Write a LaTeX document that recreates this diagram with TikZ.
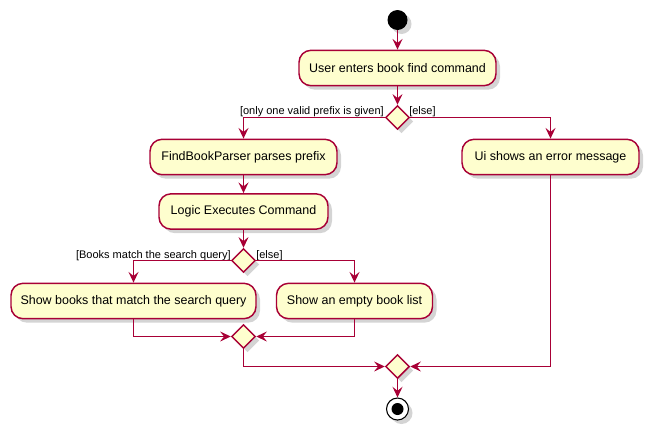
\documentclass[tikz,border=0pt]{standalone}
\usepackage{fontspec}
\setmainfont{Liberation Sans}
\usetikzlibrary{arrows.meta,shapes.geometric,shadows}
\definecolor{umlfill}{HTML}{FEFECE}
\definecolor{umlline}{HTML}{A80036}
\begin{document}
\begin{tikzpicture}[x=0.75pt,y=-0.75pt,
  shad/.style={drop shadow={shadow xshift=3pt,shadow yshift=-3pt,opacity=0.28,fill=black!60}},
  act/.style={draw=umlline,fill=umlfill,line width=1.1pt,rounded corners=9pt,
    minimum width=#1*0.75pt,minimum height=26.5pt,inner sep=0pt,
    font=\fontsize{9.35pt}{11pt}\selectfont,shad},
  dia/.style={diamond,aspect=1,draw=umlline,fill=umlfill,line width=1.1pt,
    minimum width=18pt,minimum height=18pt,inner sep=0pt,shad},
  guard/.style={font=\fontsize{8.25pt}{10pt}\selectfont,inner sep=0pt},
  flow/.style={draw=umlline,line width=1pt,-{Stealth[length=8pt,width=7.5pt,inset=3pt]}},
  line/.style={draw=umlline,line width=1pt}]
\useasboundingbox (0,0) rectangle (655,436);
\node[circle,fill=black,minimum size=15pt,inner sep=0pt,shad] (start) at (397.5,20) {};
\node[act=197] (user) at (397.5,68) {User enters book find command};
\node[dia] (d1) at (397.5,117.5) {};
\node[act=187] (parser) at (243.5,157) {FindBookParser parses prefix};
\node[act=177] (ui) at (550.5,157) {Ui shows an error message};
\node[act=169] (logic) at (243.5,211.5) {Logic Executes Command};
\node[dia] (d2) at (243.5,260.5) {};
\node[act=245] (books) at (133.5,301) {Show books that match the search query};
\node[act=156] (empty) at (354.5,301) {Show an empty book list};
\node[dia] (m2) at (243.5,336.5) {};
\node[dia] (m1) at (397.5,366.5) {};
\node[circle,draw=black,fill=white,line width=0.8pt,minimum size=16.5pt,inner sep=0pt,shad] (stop) at (397.5,409) {};
\node[circle,fill=black,minimum size=9pt,inner sep=0pt] (stopdot) at (stop.center) {};
\node[guard,anchor=base east] (g1) at (384,114) {[only one valid prefix is given]};
\node[guard,anchor=base west] (g2) at (409,114) {[else]};
\node[guard,anchor=base east] (g3) at (231,258) {[Books match the search query]};
\node[guard,anchor=base west] (g4) at (256,258) {[else]};
\draw[flow] (start) -- (user);
\draw[flow] (user) -- (d1);
\draw[flow] (d1.west) -| (parser.north);
\draw[flow] (d1.east) -| (ui.north);
\draw[flow] (parser) -- (logic);
\draw[flow] (logic) -- (d2);
\draw[flow] (d2.west) -| (books.north);
\draw[flow] (d2.east) -| (empty.north);
\draw[flow] (books.south) |- (m2.west);
\draw[flow] (empty.south) |- (m2.east);
\draw[flow] (m2.south) |- (m1.west);
\draw[flow] (ui.south) |- (m1.east);
\draw[flow] (m1) -- (stop);
\end{tikzpicture}
\end{document}
